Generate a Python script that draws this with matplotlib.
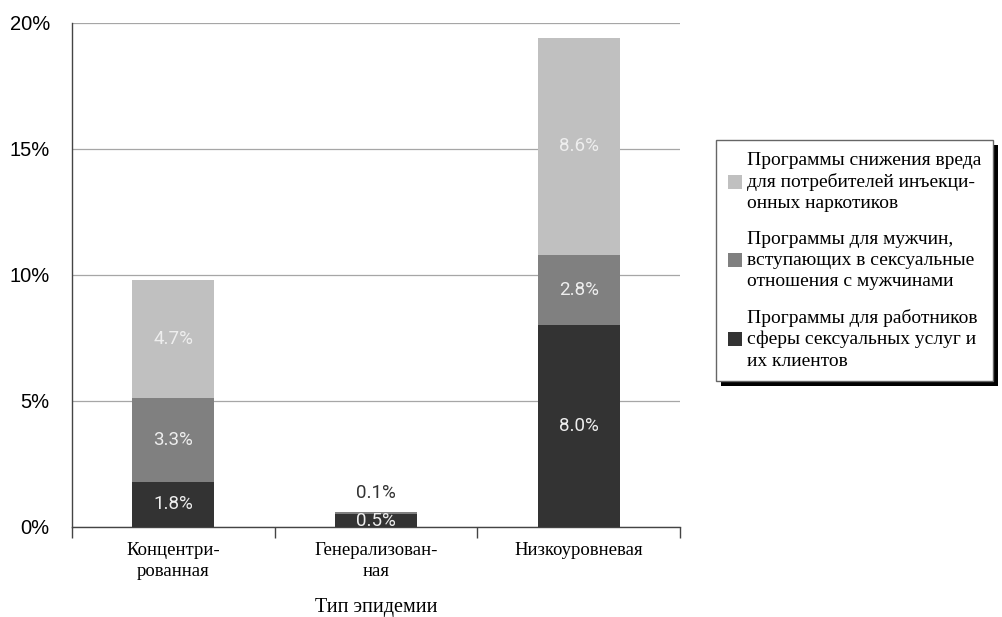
import matplotlib
matplotlib.use("Agg")
import matplotlib.pyplot as plt
from matplotlib.patches import Rectangle
from matplotlib.ticker import FixedLocator

categories = ["Концентри-\nрованная", "Генерализован-\nная", "Низкоуровневая"]
sex_workers = [1.8, 0.5, 8.0]
msm = [3.3, 0.1, 2.8]
idu = [4.7, 0.0, 8.6]
series_names = [
    "Программы снижения вреда\nдля потребителей инъекци-\nонных наркотиков",
    "Программы для мужчин,\nвступающих в сексуальные\nотношения с мужчинами",
    "Программы для работников\nсферы сексуальных услуг и\nих клиентов",
]
yticks = [0, 5, 10, 15, 20]
ytick_labels = ["0%", "5%", "10%", "15%", "20%"]
xlabel = "Тип эпидемии"

c_dark, c_mid, c_light = "#333333", "#808080", "#c0c0c0"

fig = plt.figure(figsize=(10.02, 6.17), dpi=100)
ax = fig.add_axes([72/1002, 1 - 527/617, (680-72)/1002, (527-23)/617])

x = list(range(len(categories)))
w = 0.405
b1 = ax.bar(x, sex_workers, w, color=c_dark, zorder=3)
b2 = ax.bar(x, msm, w, bottom=sex_workers, color=c_mid, zorder=3)
bot3 = [a + b for a, b in zip(sex_workers, msm)]
b3 = ax.bar(x, idu, w, bottom=bot3, color=c_light, zorder=3)

lab_font = dict(family="Roboto", fontsize=13.5)
for i in x:
    ax.text(i, sex_workers[i] / 2, f"{sex_workers[i]:.1f}%", ha="center", va="center",
            color="#eeeeee", zorder=4, **lab_font)
    if msm[i] >= 1:
        ax.text(i, sex_workers[i] + msm[i] / 2, f"{msm[i]:.1f}%", ha="center", va="center",
                color="#eeeeee", zorder=4, **lab_font)
    else:
        ax.text(i, bot3[i] + 0.75, f"{msm[i]:.1f}%", ha="center", va="center",
                color="#333333", zorder=4, **lab_font)
    if idu[i] > 0:
        ax.text(i, bot3[i] + idu[i] / 2, f"{idu[i]:.1f}%", ha="center", va="center",
                color="#eeeeee", zorder=4, **lab_font)

ax.set_xlim(-0.5, len(categories) - 0.5)
ax.set_ylim(0, 20)
ax.set_yticks(yticks)
ax.set_yticklabels(ytick_labels, family="Liberation Sans", fontsize=14.5)
ax.tick_params(axis="y", length=0, pad=16)
ax.yaxis.grid(True, color="#a6a6a6", linewidth=0.9, zorder=0)
ax.set_xticks(x)
ax.set_xticklabels(categories, family="Liberation Serif", fontsize=13.5, linespacing=1.25)
ax.tick_params(axis="x", which="major", length=0, pad=11)
ax.xaxis.set_minor_locator(FixedLocator([-0.5, 0.5, 1.5, 2.5]))
ax.tick_params(axis="x", which="minor", length=8, color="#444444", width=1)
for s in ["top", "right"]:
    ax.spines[s].set_visible(False)
for s in ["left", "bottom"]:
    ax.spines[s].set_color("#444444")
    ax.spines[s].set_linewidth(1)
ax.set_xlabel(xlabel, family="Liberation Serif", fontsize=14.5, labelpad=13)

# legend
handles = [b3, b2, b1]
leg = fig.legend(handles, series_names, loc="upper left",
                 bbox_to_anchor=(716/1002, 1 - 140/617),
                 prop=dict(family="Liberation Serif", size=14),
                 frameon=True, fancybox=False, shadow=False, framealpha=1,
                 handlelength=0.75, handleheight=0.75, handletextpad=0.25,
                 labelspacing=0.95, borderpad=0.6, borderaxespad=0)
for t in leg.get_texts():
    t.set_linespacing(1.32)
leg.get_frame().set_edgecolor("#666666")
leg.get_frame().set_linewidth(1)
leg.get_frame().set_facecolor("white")
fig.canvas.draw()
bb = leg.get_window_extent()
shadow = Rectangle((bb.x0 + 5, bb.y0 - 5), bb.width, bb.height,
                   transform=None, facecolor="black", edgecolor="none", zorder=0)
fig.patches.append(shadow)
leg.set_zorder(5)

fig.savefig("out.png", dpi=100)
